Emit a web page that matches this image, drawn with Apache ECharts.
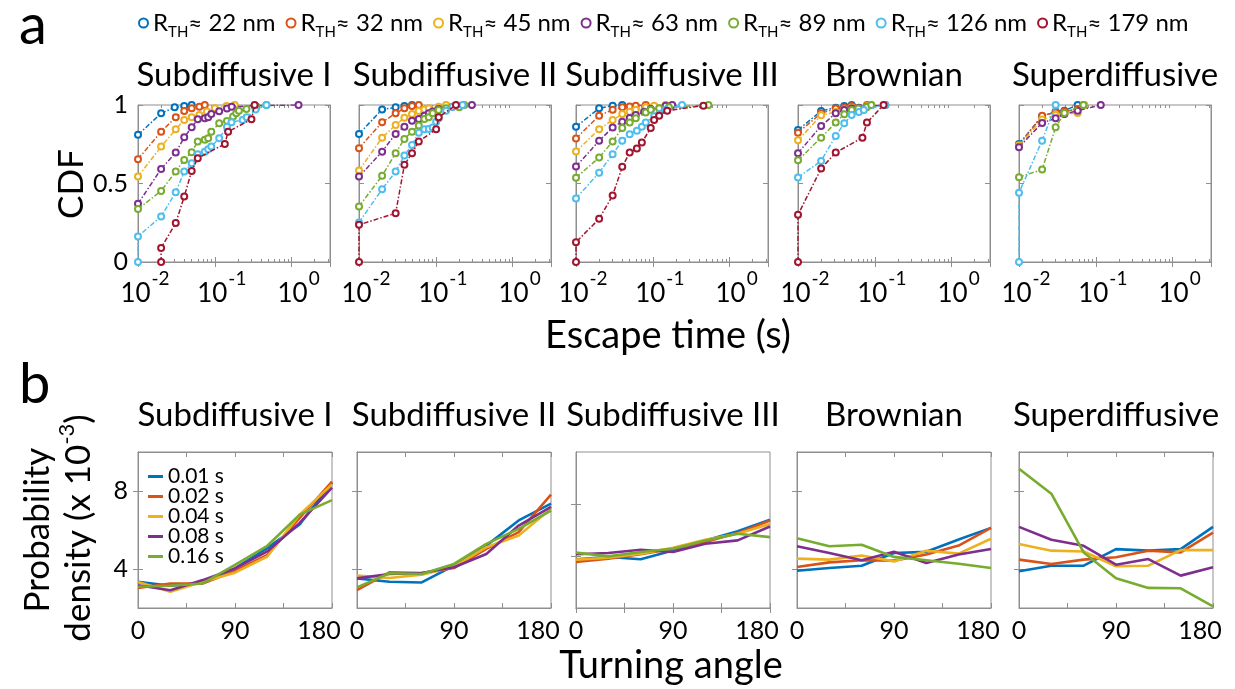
<!DOCTYPE html>
<html><head><meta charset="utf-8">
<script src="https://cdn.jsdelivr.net/npm/echarts@6/dist/echarts.min.js"></script>
<style>html,body{margin:0;padding:0;background:#fff}#c{width:1235px;height:689px}</style>
</head><body><div id="c"></div>
<script>
const FONT = 'Lato';
const panelTitles = ['Subdiffusive I','Subdiffusive II','Subdiffusive III','Brownian','Superdiffusive'];
const radiusNames = ['22 nm','32 nm','45 nm','63 nm','89 nm','126 nm','179 nm'];
const lagNames = ['0.01 s','0.02 s','0.04 s','0.08 s','0.16 s'];
const angleBins = [0,30,60,90,120,150,180];
const colors = ['#0072BD','#D95319','#EDB120','#7E2F8E','#77AC30','#4DBEEE','#A2142F'];

// ---- panel a: CDF of escape time, [time (s), CDF] per radius ----
const cdfSubI = [
  [[0.01,0.81],[0.02,0.947],[0.03,0.985],[0.04,0.994],[0.05,1]],
  [[0.01,0.655],[0.02,0.83],[0.031,0.922],[0.04,0.962],[0.05,0.979],[0.063,0.989],[0.074,1]],
  [[0.01,0.544],[0.02,0.735],[0.031,0.845],[0.04,0.905],[0.05,0.922],[0.063,0.936],[0.079,0.958],[0.1,0.979],[0.142,0.994],[0.182,1]],
  [[0.01,0.371],[0.02,0.593],[0.031,0.697],[0.04,0.794],[0.05,0.858],[0.06,0.909],[0.074,0.915],[0.082,0.922],[0.09,0.943],[0.114,0.96],[0.144,0.977],[0.166,0.989],[0.33,0.996],[1.23,1]],
  [[0.01,0.337],[0.02,0.453],[0.031,0.576],[0.04,0.65],[0.05,0.699],[0.06,0.767],[0.074,0.778],[0.082,0.788],[0.09,0.83],[0.114,0.883],[0.144,0.898],[0.173,0.926],[0.19,0.947],[0.206,0.964],[0.258,0.975],[0.35,0.989],[0.47,1]],
  [[0.01,0],[0.01,0.163],[0.02,0.29],[0.031,0.445],[0.04,0.576],[0.05,0.629],[0.06,0.686],[0.074,0.703],[0.082,0.718],[0.09,0.735],[0.114,0.788],[0.144,0.862],[0.165,0.89],[0.23,0.905],[0.26,0.922],[0.34,0.972],[0.47,1]],
  [[0.02,0],[0.02,0.089],[0.031,0.248],[0.04,0.417],[0.05,0.58],[0.06,0.661],[0.135,0.752],[0.149,0.83],[0.3,0.909],[0.33,1]]
];
const cdfSubII = [
  [[0.01,0.816],[0.02,0.972],[0.03,0.985],[0.039,0.994],[0.049,1]],
  [[0.01,0.725],[0.02,0.89],[0.03,0.947],[0.039,0.979],[0.049,0.994],[0.06,1]],
  [[0.01,0.583],[0.02,0.792],[0.03,0.873],[0.039,0.919],[0.049,0.943],[0.06,0.962],[0.071,0.972],[0.081,0.979],[0.109,0.989],[0.136,1]],
  [[0.01,0.544],[0.02,0.703],[0.03,0.816],[0.039,0.862],[0.049,0.9],[0.06,0.911],[0.071,0.932],[0.081,0.947],[0.091,0.958],[0.109,0.975],[0.166,0.989],[0.295,1]],
  [[0.01,0.354],[0.02,0.549],[0.03,0.693],[0.039,0.784],[0.049,0.83],[0.06,0.869],[0.071,0.911],[0.081,0.922],[0.091,0.947],[0.109,0.968],[0.136,0.979],[0.202,0.985],[0.235,1]],
  [[0.01,0.252],[0.02,0.464],[0.03,0.576],[0.039,0.678],[0.049,0.746],[0.06,0.824],[0.071,0.845],[0.081,0.847],[0.091,0.856],[0.101,0.894],[0.109,0.915],[0.136,0.964],[0.166,0.989],[0.223,1]],
  [[0.01,0],[0.01,0.237],[0.03,0.311],[0.039,0.619],[0.049,0.693],[0.06,0.767],[0.101,0.845],[0.109,0.922],[0.183,1]]
];
const cdfSubIII = [
  [[0.01,0.861],[0.02,0.979],[0.03,0.996],[0.04,1]],
  [[0.01,0.787],[0.02,0.932],[0.03,0.97],[0.04,0.985],[0.05,0.991],[0.06,0.996],[0.081,1]],
  [[0.01,0.704],[0.02,0.846],[0.03,0.904],[0.04,0.942],[0.05,0.957],[0.06,0.97],[0.081,0.985],[0.104,0.996],[0.147,1]],
  [[0.01,0.608],[0.02,0.772],[0.03,0.857],[0.04,0.893],[0.05,0.917],[0.06,0.936],[0.077,0.957],[0.094,0.974],[0.147,0.996],[0.179,1]],
  [[0.01,0.537],[0.02,0.665],[0.03,0.768],[0.04,0.853],[0.05,0.889],[0.06,0.915],[0.081,0.953],[0.094,0.97],[0.121,0.979],[0.162,0.985],[0.53,1]],
  [[0.01,0.405],[0.02,0.569],[0.03,0.687],[0.04,0.772],[0.05,0.814],[0.062,0.836],[0.072,0.861],[0.081,0.889],[0.104,0.928],[0.121,0.942],[0.147,0.97],[0.24,1]],
  [[0.01,0],[0.01,0.126],[0.02,0.275],[0.03,0.424],[0.04,0.606],[0.05,0.697],[0.062,0.723],[0.072,0.761],[0.094,0.853],[0.104,0.904],[0.121,0.932],[0.154,0.964],[0.456,0.996]]
];
const cdfBrownian = [
  [[0.01,0.841],[0.02,0.962],[0.031,0.983],[0.04,0.994],[0.05,1]],
  [[0.01,0.824],[0.02,0.947],[0.031,0.977],[0.04,0.983],[0.05,0.994],[0.079,1]],
  [[0.01,0.775],[0.02,0.934],[0.031,0.956],[0.04,0.972],[0.05,0.983],[0.079,0.994],[0.09,1]],
  [[0.01,0.693],[0.02,0.867],[0.031,0.947],[0.04,0.968],[0.05,0.977],[0.062,0.983],[0.079,0.989],[0.137,1]],
  [[0.01,0.648],[0.02,0.792],[0.031,0.888],[0.04,0.941],[0.05,0.968],[0.061,0.977],[0.079,0.987],[0.09,1]],
  [[0.01,0.538],[0.02,0.644],[0.031,0.803],[0.04,0.883],[0.05,0.936],[0.062,0.956],[0.072,0.968],[0.137,1]],
  [[0.01,0],[0.01,0.301],[0.02,0.595],[0.031,0.697],[0.069,0.792],[0.079,0.888],[0.13,1]]
];
const cdfSuper = [
  [[0.01,0.752],[0.02,0.928],[0.03,0.958],[0.039,0.964],[0.058,1]],
  [[0.01,0.746],[0.02,0.932],[0.03,0.953],[0.039,0.958],[0.058,0.975],[0.069,1]],
  [[0.01,0.742],[0.02,0.907],[0.03,0.936],[0.039,0.943],[0.058,0.949],[0.071,1]],
  [[0.01,0.731],[0.02,0.886],[0.03,0.915],[0.039,0.943],[0.058,0.964],[0.116,1]],
  [[0.01,0.54],[0.02,0.589],[0.03,0.858],[0.039,0.949],[0.069,1]],
  [[0.01,0],[0.01,0.441],[0.02,0.773],[0.03,1]],
  []
];

// ---- panel b: turning-angle probability density (x 1e-3), per time lag ----
const pdfSubI = [
  [3.34,3.14,3.29,4.03,5.07,6.28,8.43],
  [3.03,3.26,3.26,3.90,4.72,6.62,8.48],
  [3.34,2.83,3.34,3.81,4.64,6.79,8.34],
  [3.17,2.91,3.43,4.03,4.90,6.36,8.17],
  [3.09,3.14,3.26,4.21,5.19,6.79,7.53]
];
const pdfSubII = [
  [3.52,3.35,3.31,4.17,5.20,6.49,7.35],
  [2.92,3.83,3.79,4.05,5.03,5.89,7.81],
  [3.66,3.54,3.71,4.12,5.12,5.72,7.09],
  [3.52,3.74,3.79,4.09,4.77,6.23,7.18],
  [3.06,3.78,3.74,4.26,5.29,6.06,7.00]
];
const pdfSubIII = [
  [3.75,3.92,3.75,4.43,5.20,5.91,6.80],
  [3.54,3.80,4.13,4.56,5.07,5.76,6.73],
  [3.72,3.87,4.18,4.64,5.25,5.71,6.47],
  [4.13,4.23,4.48,4.31,4.94,5.20,6.27],
  [4.26,3.97,4.31,4.56,5.20,5.71,5.45]
];
const pdfBrownian = [
  [3.91,4.05,4.17,4.82,4.88,5.51,6.11],
  [4.10,4.34,4.45,4.43,4.74,5.20,6.11],
  [4.53,4.48,4.69,4.39,4.94,4.79,5.55],
  [5.17,4.82,4.45,4.88,4.31,4.74,5.03],
  [5.58,5.17,5.24,4.62,4.45,4.27,4.05]
];
const pdfSuper = [
  [3.88,4.17,4.17,5.02,4.94,5.02,6.16],
  [4.48,4.26,4.48,4.60,4.94,4.85,5.87],
  [5.28,4.94,4.90,4.14,4.17,4.97,4.97],
  [6.16,5.50,5.19,4.22,4.51,3.66,4.09],
  [9.14,7.86,4.85,3.52,3.03,3.01,2.08]
];
const pdfYRanges = [[2,10],[2,10],[0,12],[2,10],[2,10]];
const pdfTicks = [4, 8];
const cdfMinorTicks = [0.02,0.03,0.04,0.05,0.06,0.07,0.08,0.09,0.2,0.3,0.4,0.5,0.6,0.7,0.8,0.9,2,3];

const cdfPanels = [cdfSubI, cdfSubII, cdfSubIII, cdfBrownian, cdfSuper];
const pdfPanels = [pdfSubI, pdfSubII, pdfSubIII, pdfBrownian, pdfSuper];

// ---- layout ----
const rowA = {top: 105, height: 157, lefts: [138, 359, 576, 798, 1019], width: 192};
const rowB = {top: 452, height: 156, lefts: [138, 357, 576, 797, 1019], width: 194};
const AX = '#8f8f8f';

const grids = [], xAxes = [], yAxes = [], series = [], graphics = [];

function supLabel(v) {
  const e = Math.log10(v);
  const r = Math.round(e);
  if (Math.abs(e - r) > 1e-6) return '';
  return '{p|}{b|10}{s|' + r + '}';
}

cdfPanels.forEach((panel, i) => {
  const L = rowA.lefts[i];
  grids.push({left: L, top: rowA.top, width: rowA.width, height: rowA.height, show: true, borderColor: AX, borderWidth: 1});
  const g = grids.length - 1;
  const xBase = {gridIndex: g, type: 'log', logBase: 10, min: 0.01, max: 3.16, splitLine: {show: false},
    axisLine: {show: true, lineStyle: {color: AX}}, axisTick: {show: true, inside: true, length: 5, lineStyle: {color: AX}}};
  xAxes.push(Object.assign({}, xBase, {position: 'bottom',
    axisLabel: {show: true, margin: 7, formatter: supLabel, color: '#000',
      rich: {p: {width: 14, fontSize: 26},
             b: {fontSize: 26, fontFamily: FONT, color: '#000', verticalAlign: 'bottom'},
             s: {fontSize: 19, fontFamily: FONT, color: '#000', verticalAlign: 'bottom', padding: [0, 0, 19, 1]}}}}));
  const xi = xAxes.length - 1;
  xAxes.push(Object.assign({}, xBase, {position: 'top', axisLabel: {show: false}}));
  const yBase = {gridIndex: g, type: 'value', min: 0, max: 1, interval: 0.5, splitLine: {show: false},
    axisLine: {show: true, lineStyle: {color: AX}}, axisTick: {show: true, inside: true, length: 5, lineStyle: {color: AX}}};
  yAxes.push(Object.assign({}, yBase, {position: 'left',
    axisLabel: {show: i === 0, margin: 10, color: '#000', fontSize: 25, fontFamily: FONT}}));
  const yi = yAxes.length - 1;
  yAxes.push(Object.assign({}, yBase, {position: 'right', axisLabel: {show: false}}));
  // minor log ticks overlay
  grids.push({left: L, top: rowA.top, width: rowA.width, height: rowA.height, show: false});
  const g2 = grids.length - 1;
  ['bottom','top'].forEach(pos => xAxes.push({gridIndex: g2, type: 'log', logBase: 10, min: 0.01, max: 3.16, position: pos,
    splitLine: {show: false}, axisLine: {show: false}, axisLabel: {show: false},
    axisTick: {show: true, inside: true, length: 3, customValues: cdfMinorTicks, lineStyle: {color: AX}}}));
  yAxes.push({gridIndex: g2, type: 'value', min: 0, max: 1, show: false});

  panel.forEach((pts, k) => {
    if (!pts.length) return;
    series.push({type: 'line', name: radiusNames[k], xAxisIndex: xi, yAxisIndex: yi, data: pts,
      symbol: 'emptyCircle', symbolSize: 6, showSymbol: true, animation: false, silent: true,
      itemStyle: {color: colors[k], borderWidth: 1.6},
      lineStyle: {color: colors[k], width: 1.5, type: [5, 2, 1.5, 2]}, z: 2 + k});
  });
  graphics.push({type: 'text', x: L + rowA.width / 2, y: 75,
    style: {text: panelTitles[i], align: 'center', verticalAlign: 'middle', font: '33px ' + FONT, fill: '#000'}});
});

pdfPanels.forEach((panel, i) => {
  const L = rowB.lefts[i];
  grids.push({left: L, top: rowB.top, width: rowB.width, height: rowB.height, show: true, borderColor: AX, borderWidth: 1});
  const g = grids.length - 1;
  const xBase = {gridIndex: g, type: 'value', min: 0, max: 180, interval: 45, splitLine: {show: false},
    axisLine: {show: true, lineStyle: {color: AX}}, axisTick: {show: true, inside: true, length: 5, lineStyle: {color: AX}}};
  xAxes.push(Object.assign({}, xBase, {position: 'bottom',
    axisLabel: {show: true, margin: 10, color: '#000', fontSize: 25, fontFamily: FONT,
      formatter: v => (v === 180 ? '{e|180}' : (v % 90 === 0 ? String(v) : '')),
      rich: {e: {fontSize: 25, fontFamily: FONT, color: '#000', padding: [0, 26, 0, 0]}}}}));
  const xi = xAxes.length - 1;
  xAxes.push(Object.assign({}, xBase, {position: 'top', axisLabel: {show: false}}));
  const yr = pdfYRanges[i];
  const yBase = {gridIndex: g, type: 'value', min: yr[0], max: yr[1], splitLine: {show: false},
    axisLine: {show: true, lineStyle: {color: AX}},
    axisTick: {show: true, inside: true, length: 5, customValues: pdfTicks, lineStyle: {color: AX}}};
  yAxes.push(Object.assign({}, yBase, {position: 'left',
    axisLabel: {show: i === 0, customValues: pdfTicks, margin: 10, color: '#000', fontSize: 25, fontFamily: FONT}}));
  const yi = yAxes.length - 1;
  yAxes.push(Object.assign({}, yBase, {position: 'right', axisLabel: {show: false}}));
  panel.forEach((vals, k) => {
    series.push({type: 'line', name: lagNames[k], xAxisIndex: xi, yAxisIndex: yi,
      data: vals.map((v, j) => [angleBins[j], v]),
      symbol: 'none', animation: false, silent: true,
      itemStyle: {color: colors[k]}, lineStyle: {color: colors[k], width: 2.6}, z: 2 + k});
  });
  graphics.push({type: 'text', x: L + rowB.width / 2, y: 415,
    style: {text: panelTitles[i], align: 'center', verticalAlign: 'middle', font: '33px ' + FONT, fill: '#000'}});
});

graphics.push(
  {type: 'text', x: 19, y: 26, style: {text: 'a', align: 'left', verticalAlign: 'middle', font: '56px ' + FONT, fill: '#000'}},
  {type: 'text', x: 19, y: 385, style: {text: 'b', align: 'left', verticalAlign: 'middle', font: '56px ' + FONT, fill: '#000'}},
  {type: 'text', x: 72, y: 184, rotation: Math.PI / 2,
    style: {text: 'CDF', align: 'center', verticalAlign: 'middle', font: '35px ' + FONT, fill: '#000'}},
  {type: 'text', x: 668, y: 336, style: {text: 'Escape time (s)', align: 'center', verticalAlign: 'middle', font: '38px ' + FONT, fill: '#000'}},
  {type: 'text', x: 671, y: 666, style: {text: 'Turning angle', align: 'center', verticalAlign: 'middle', font: '38px ' + FONT, fill: '#000'}},
  {type: 'text', x: 38, y: 530, rotation: Math.PI / 2,
    style: {text: 'Probability', align: 'center', verticalAlign: 'middle', font: '35px ' + FONT, fill: '#000'}},
  {type: 'text', x: 76, y: 528, rotation: Math.PI / 2,
    style: {text: '{n|density (x 10}{s|-3}{n|)}', align: 'center', verticalAlign: 'middle', fill: '#000',
      rich: {n: {fontSize: 35, fontFamily: FONT, verticalAlign: 'bottom'}, s: {fontSize: 22, fontFamily: FONT, verticalAlign: 'bottom', padding: [0, 0, 18, 0]}}}}
);

const chart = echarts.init(document.getElementById('c'), null, {renderer: 'canvas'});
chart.setOption({
  backgroundColor: '#fff',
  animation: false,
  textStyle: {fontFamily: FONT},
  grid: grids, xAxis: xAxes, yAxis: yAxes, series: series,
  legend: [
    {data: radiusNames, top: 6, left: 133, orient: 'horizontal', icon: 'emptyCircle', itemWidth: 9, itemHeight: 9, itemGap: 10,
      selectedMode: false,
      formatter: n => '{r|R}{s|TH}{r|≈ ' + n + '}',
      textStyle: {color: '#000', fontSize: 24, fontFamily: FONT,
        rich: {r: {fontSize: 24, fontFamily: FONT, color: '#000', verticalAlign: 'bottom'},
               s: {fontSize: 15, fontFamily: FONT, color: '#000', verticalAlign: 'bottom', padding: [0, 0, -5, 0]}}}},
    {data: lagNames, top: 461, left: 143, orient: 'vertical', icon: 'rect', itemWidth: 15, itemHeight: 3, itemGap: -1,
      selectedMode: false, textStyle: {color: '#000', fontSize: 21, fontFamily: FONT}}
  ],
  graphic: graphics
});
</script></body></html>
